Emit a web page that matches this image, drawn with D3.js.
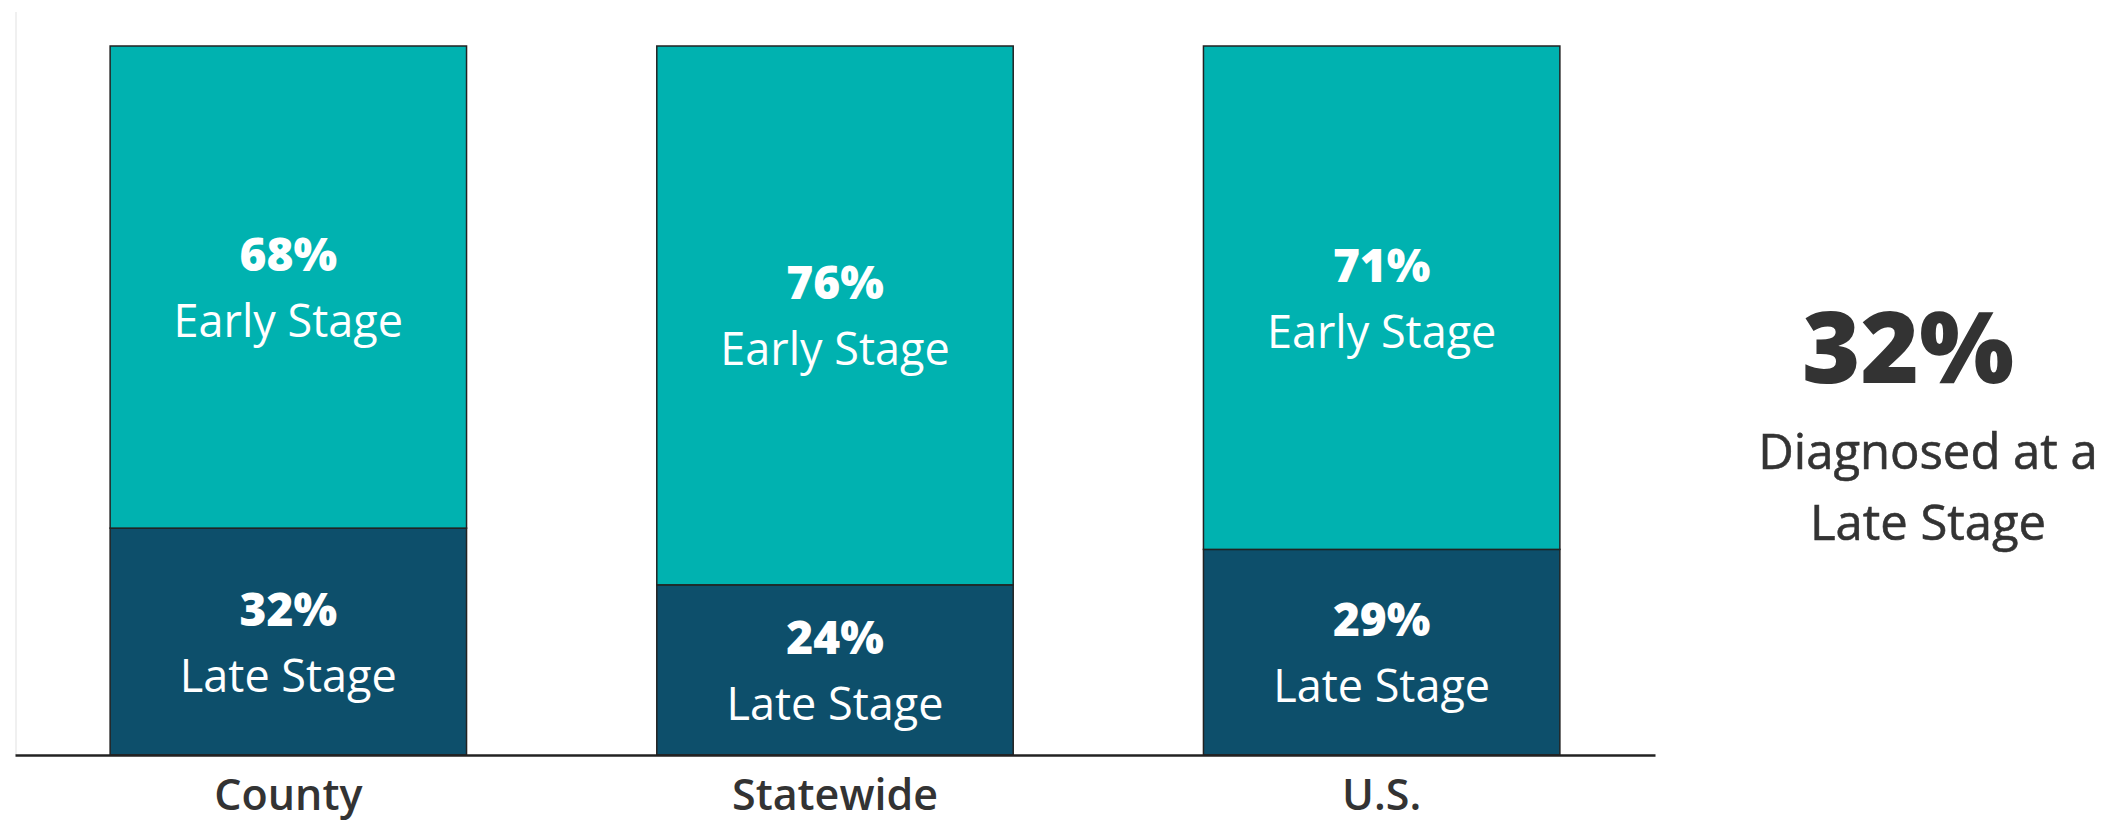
<!DOCTYPE html>
<html>
<head>
<meta charset="utf-8">
<script src="https://cdn.jsdelivr.net/npm/d3@7"></script>
<style>
body{margin:0;background:#fff;}
text{font-family:"Open Sans","Noto Sans",sans-serif;}
</style>
</head>
<body>
<div class="box"></div>
<script>
const categories=['County','Statewide','U.S.'];
const lateStage=[32,24,29];
const earlyStage=[68,76,71];
const headline='32%';
const headlineText=['Diagnosed at a','Late Stage'];

const W=2108,H=822;
const svg=d3.select('.box').append('svg').attr('width',W).attr('height',H).style('background','white');

const x=d3.scaleBand().domain(categories).range([15,1655]).paddingInner(0.348).paddingOuter(0.174);
const y=d3.scaleLinear().domain([0,100]).range([755,46]);

const rows=categories.map((c,i)=>({cat:c,late:lateStage[i],early:earlyStage[i]}));

// faint left border
svg.append('line').attr('x1',16).attr('x2',16).attr('y1',12).attr('y2',y(0)).attr('stroke','#f0f0f0').attr('stroke-width',2);

const g=svg.append('g');
// late stage (bottom)
g.selectAll('rect.late').data(rows).enter().append('rect').attr('class','late')
  .attr('x',d=>x(d.cat)).attr('width',x.bandwidth())
  .attr('y',d=>y(d.late)).attr('height',d=>y(0)-y(d.late))
  .attr('fill','#0d4f6b').attr('stroke','#222').attr('stroke-width',1.5);
// early stage (top)
g.selectAll('rect.early').data(rows).enter().append('rect').attr('class','early')
  .attr('x',d=>x(d.cat)).attr('width',x.bandwidth())
  .attr('y',d=>y(d.late+d.early)).attr('height',d=>y(d.late)-y(d.late+d.early))
  .attr('fill','#00b2b0').attr('stroke','#222').attr('stroke-width',1.5);

function segLabel(sel,mid,val,txt){
  const t=sel.append('text').attr('text-anchor','middle').attr('fill','white');
  t.append('tspan').attr('x',d=>x(d.cat)+x.bandwidth()/2).attr('y',d=>mid(d)-16)
    .attr('font-weight',800).attr('font-size',46).text(val);
  t.append('tspan').attr('x',d=>x(d.cat)+x.bandwidth()/2).attr('y',d=>mid(d)+50)
    .attr('font-size',45).text(txt);
}
const lab=svg.append('g').selectAll('g').data(rows).enter().append('g');
segLabel(lab,d=>(y(d.late+d.early)+y(d.late))/2,d=>d.early+'%','Early Stage');
segLabel(lab,d=>(y(d.late)+y(0))/2,d=>d.late+'%','Late Stage');

// axis
const axeX=d3.axisBottom(x).tickSize(0).tickPadding(24);
const gX=svg.append('g').attr('transform',`translate(0,${y(0)})`).call(axeX);
gX.select('.domain').attr('stroke','#222').attr('stroke-width',2.5);
gX.selectAll('text').attr('font-family','"Open Sans",sans-serif').attr('font-size',43).attr('font-weight',600).attr('fill','#333');

// headline annotation
svg.append('text').attr('x',1908).attr('y',383).attr('text-anchor','middle').attr('fill','#333')
  .attr('font-size',100).attr('font-weight',800).text(headline);
svg.selectAll('text.sub').data(headlineText).enter().append('text').attr('class','sub')
  .attr('x',1928).attr('y',(d,i)=>469+i*71).attr('text-anchor','middle').attr('fill','#333')
  .attr('font-size',49).attr('font-weight',500).attr('stroke','#333').attr('stroke-width',0.6).text(d=>d);
</script>
</body>
</html>
